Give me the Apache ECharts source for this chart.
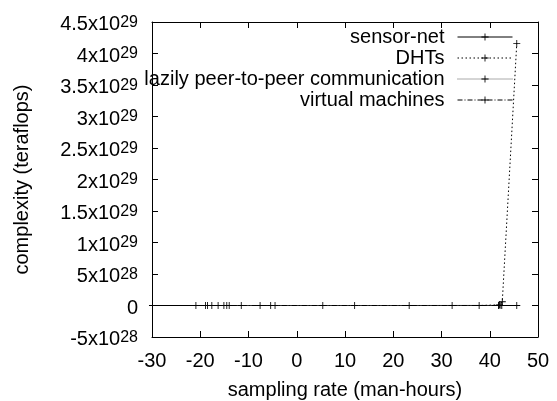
<html lang="en">
<head>
  <meta charset="UTF-8">
  <title>complexity vs sampling rate</title>
  <style>
    body { margin: 0; padding: 0; background: #fff; }
    #chart { width: 557px; height: 401px; }
  </style>
  <script src="https://cdn.jsdelivr.net/npm/echarts@6/dist/echarts.min.js"></script>
</head>
<body>
  <div id="chart"></div>
  <script>
    // values (x = sampling rate, y = complexity)
    let seriesNames = ['sensor-net', 'DHTs', 'lazily peer-to-peer communication', 'virtual machines'];

    let sensorX = [-29.9, -20.9, -16.3, -11.5, -4.5, 12, 32.2, 41.8, 45.6];
    let sensorY = [12, 40, 75, 130, 260, 900, 3100, 5200, 7400];

    let dhtX = [-18.9, -14.5, -7.6, 5.4, 37.8, 42.0, 42.6, 45.6];
    let dhtY = [30, 90, 380, 2200, 4.1e5, 1e27, 6e27, 4.16e29];

    let lazyX = [-18.5, -15.1, -5.4, 23.3, 42.3];
    let lazyY = [25, 60, 310, 1800, 2.5e26];

    let vmX = [-17.6, -14.0, 41.9, 42.5];
    let vmY = [18, 55, 3.0e3, 6.1e3];

    let xTicks = { min: -30, max: 50, step: 10 };
    let yTicks = { min: -5e28, max: 4.5e29, step: 5e28 };

    const font = "'Liberation Sans', Arial, sans-serif";
    const plus = 'path://M4.4,0h1.2v4.4h4.4v1.2h-4.4v4.4h-1.2v-4.4h-4.4v-1.2h4.4z';

    function pairs(xs, ys) {
      return xs.map(function (x, i) { return [x, ys[i]]; });
    }

    // gnuplot style "4.5x10^29" labels
    function sciLabel(v) {
      if (Math.abs(v) < 1) return '{m|0}';
      let e = Math.floor(Math.log10(Math.abs(v)) + 1e-9);
      let m = Math.round(v / Math.pow(10, e) * 10) / 10;
      return '{m|' + m + 'x10}{s|' + e + '}';
    }

    let myChart = echarts.init(document.getElementById('chart'), null, { renderer: 'canvas' });

    function lineSeries(name, data, type, color) {
      return {
        name: name,
        type: 'line',
        data: data,
        symbol: plus,
        symbolSize: 7,
        showSymbol: true,
        itemStyle: { color: '#000' },
        lineStyle: { color: color, width: 1, type: type },
        animation: false
      };
    }

    let axisCommon = {
      type: 'value',
      axisLine: { show: true, onZero: false, lineStyle: { color: '#000', width: 1 } },
      axisTick: { show: true, inside: true, length: 6, lineStyle: { color: '#000' } },
      splitLine: { show: false }
    };

    let option = {
      backgroundColor: '#fff',
      textStyle: { fontFamily: font },
      grid: { left: 152, right: 19, top: 22, bottom: 64, outerBoundsMode: 'none', containLabel: false },
      legend: {
        orient: 'vertical',
        align: 'right',
        right: 44,
        top: 27,
        padding: 0,
        itemWidth: 55,
        itemHeight: 9,
        itemGap: 1,
        data: seriesNames,
        lineStyle: { width: 1 },
        textStyle: { fontFamily: font, fontSize: 20, lineHeight: 9, color: '#000', padding: [0, 8, 0, 0] }
      },
      xAxis: [
        Object.assign({}, axisCommon, {
          min: xTicks.min, max: xTicks.max, interval: xTicks.step,
          position: 'bottom',
          name: 'sampling rate (man-hours)',
          nameLocation: 'middle',
          nameGap: 43,
          nameTextStyle: { fontFamily: font, fontSize: 20, color: '#000' },
          axisLabel: { fontFamily: font, fontSize: 20, color: '#000', margin: 14 }
        }),
        Object.assign({}, axisCommon, {
          min: xTicks.min, max: xTicks.max, interval: xTicks.step,
          position: 'top',
          axisLabel: { show: false }
        })
      ],
      yAxis: [
        Object.assign({}, axisCommon, {
          min: yTicks.min, max: yTicks.max, interval: yTicks.step,
          position: 'left',
          name: 'complexity (teraflops)',
          nameLocation: 'middle',
          nameGap: 120,
          nameRotate: 90,
          nameTextStyle: { fontFamily: font, fontSize: 20, color: '#000' },
          axisLabel: {
            margin: 14,
            padding: [5, 0, 0, 0],
            formatter: sciLabel,
            rich: {
              m: { fontFamily: font, fontSize: 20, lineHeight: 20, color: '#000', verticalAlign: 'bottom' },
              s: { fontFamily: font, fontSize: 16, lineHeight: 16, color: '#000', verticalAlign: 'top', padding: [0, 0, 11, 0] }
            }
          }
        }),
        Object.assign({}, axisCommon, {
          min: yTicks.min, max: yTicks.max, interval: yTicks.step,
          position: 'right',
          axisLabel: { show: false }
        })
      ],
      series: [
        lineSeries(seriesNames[0], pairs(sensorX, sensorY), 'solid', '#000'),
        lineSeries(seriesNames[1], pairs(dhtX, dhtY), [1.5, 2.5], '#000'),
        lineSeries(seriesNames[2], pairs(lazyX, lazyY), [1, 1], '#555'),
        lineSeries(seriesNames[3], pairs(vmX, vmY), [5, 2, 1, 2], '#000')
      ]
    };

    myChart.setOption(option);
  </script>
</body>
</html>
